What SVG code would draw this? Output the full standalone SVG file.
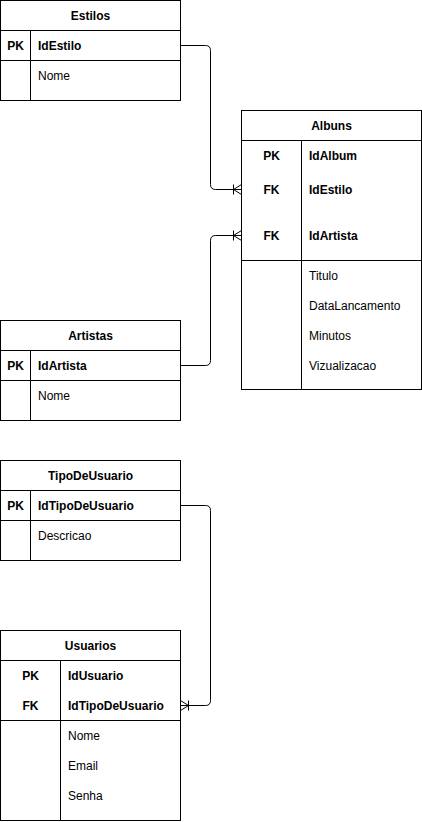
<svg xmlns="http://www.w3.org/2000/svg" width="422" height="822" viewBox="0 0 422 822">
<style>
  .box { fill: #ffffff; stroke: #000000; stroke-width: 1; }
  .ln { fill: none; stroke: #000000; stroke-width: 1; }
  text { font-family: "Liberation Sans", Arial, Helvetica, sans-serif; font-size: 12px; fill: #000000; dominant-baseline: central; }
  .h { font-weight: bold; text-anchor: middle; }
  .k { font-weight: bold; }
  .kc { font-weight: bold; text-anchor: middle; }
  .conn { fill: none; stroke: #000000; stroke-width: 1; }
</style>
<defs>
  <marker id="crow" markerWidth="12" markerHeight="14" refX="10" refY="7" orient="auto" markerUnits="userSpaceOnUse" overflow="visible">
    <path d="M2,7 L10,2 M2,7 L10,7 M2,7 L10,12 M2,2 L2,12" fill="none" stroke="#000000" stroke-width="1"/>
  </marker>
</defs>
<rect width="422" height="822" fill="#ffffff"/>

<g id="Estilos">
  <rect class="box" x="0.5" y="0.5" width="180" height="100"/>
  <path class="ln" d="M0.5,30.5 H180.5 M0.5,60.5 H180.5 M30.5,30.5 V100.5"/>
  <text class="h" x="90.5" y="15.5">Estilos</text>
  <text class="kc" x="15.5" y="45.5">PK</text>
  <text class="k" x="38" y="45.5">IdEstilo</text>
  <text x="38" y="75.5">Nome</text>
</g>

<g id="Albuns">
  <rect class="box" x="241.5" y="110.5" width="180" height="279"/>
  <path class="ln" d="M241.5,140.5 H421.5 M241.5,260.5 H421.5 M301.5,140.5 V389.5"/>
  <text class="h" x="331.5" y="125.5">Albuns</text>
  <text class="kc" x="271.5" y="155.5">PK</text>
  <text class="k" x="309" y="155.5">IdAlbum</text>
  <text class="kc" x="271.5" y="189.5">FK</text>
  <text class="k" x="309" y="189.5">IdEstilo</text>
  <text class="kc" x="271.5" y="235.5">FK</text>
  <text class="k" x="309" y="235.5">IdArtista</text>
  <text x="309" y="275.5">Titulo</text>
  <text x="309" y="305.5">DataLancamento</text>
  <text x="309" y="335.5">Minutos</text>
  <text x="309" y="365.5">Vizualizacao</text>
</g>

<g id="Artistas">
  <rect class="box" x="0.5" y="320.5" width="180" height="100"/>
  <path class="ln" d="M0.5,350.5 H180.5 M0.5,380.5 H180.5 M30.5,350.5 V420.5"/>
  <text class="h" x="90.5" y="335.5">Artistas</text>
  <text class="kc" x="15.5" y="365.5">PK</text>
  <text class="k" x="38" y="365.5">IdArtista</text>
  <text x="38" y="395.5">Nome</text>
</g>

<g id="TipoDeUsuario">
  <rect class="box" x="0.5" y="460.5" width="180" height="100"/>
  <path class="ln" d="M0.5,490.5 H180.5 M0.5,520.5 H180.5 M30.5,490.5 V560.5"/>
  <text class="h" x="90.5" y="475.5">TipoDeUsuario</text>
  <text class="kc" x="15.5" y="505.5">PK</text>
  <text class="k" x="38" y="505.5">IdTipoDeUsuario</text>
  <text x="38" y="535.5">Descricao</text>
</g>

<g id="Usuarios">
  <rect class="box" x="0.5" y="630.5" width="180" height="190"/>
  <path class="ln" d="M0.5,660.5 H180.5 M0.5,720.5 H180.5 M60.5,660.5 V820.5"/>
  <text class="h" x="90.5" y="645.5">Usuarios</text>
  <text class="kc" x="30.5" y="675.5">PK</text>
  <text class="k" x="68" y="675.5">IdUsuario</text>
  <text class="kc" x="30.5" y="705.5">FK</text>
  <text class="k" x="68" y="705.5">IdTipoDeUsuario</text>
  <text x="68" y="735.5">Nome</text>
  <text x="68" y="765.5">Email</text>
  <text x="68" y="795.5">Senha</text>
</g>

<g id="connectors">
  <path class="conn" d="M180.5,45.5 H205.5 Q210.5,45.5 210.5,50.5 V184.5 Q210.5,189.5 215.5,189.5 H241.5" marker-end="url(#crow)"/>
  <path class="conn" d="M180.5,365.5 H205.5 Q210.5,365.5 210.5,360.5 V240.5 Q210.5,235.5 215.5,235.5 H241.5" marker-end="url(#crow)"/>
  <path class="conn" d="M180.5,505.5 H205.5 Q210.5,505.5 210.5,510.5 V700.5 Q210.5,705.5 205.5,705.5 H180.5" marker-end="url(#crow)"/>
</g>
</svg>
